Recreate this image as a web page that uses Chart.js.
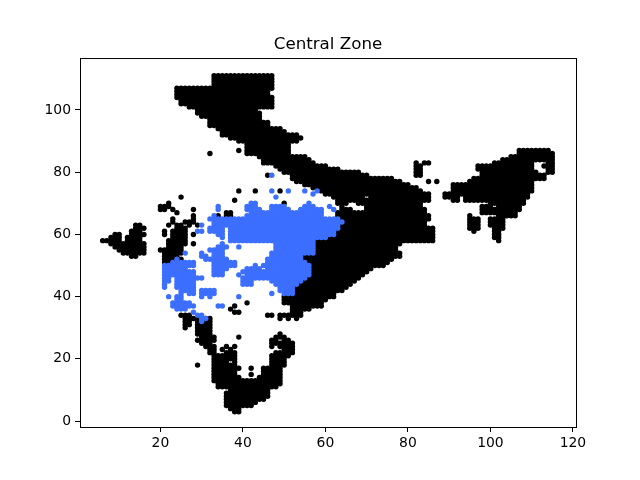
<!DOCTYPE html>
<html>
<head>
<meta charset="utf-8">
<style>
html, body { margin: 0; padding: 0; background: #fff; }
#wrap { width: 640px; height: 480px; }
</style>
<script src="https://cdn.jsdelivr.net/npm/chart.js@4"></script>
</head>
<body>
<div id="wrap"><canvas id="grafico" width="640" height="480"></canvas></div>
<script>
const xTicks = [20, 40, 60, 80, 100, 120]
const yTicks = [0, 20, 40, 60, 80, 100]

// grid cells: [y, x from, x to, x from, x to, ...]
const blackRows = [
    [111, 33,47], [110, 33,47], [109, 33,47], [108, 33,47],
    [107, 24,47], [106, 24,46], [105, 24,46], [104, 24,47], [103, 25,47], [102, 25,47], [101, 27,47],
    [100, 29,43], [99, 29,44], [98, 30,44], [97, 32,44], [96, 32,46], [95, 32,46], [94, 34,49],
    [93, 35,50], [92, 35,53], [91, 37,54], [90, 39,53], [89, 41,51], [88, 41,51],
    [87, 39,39, 41,51, 107,114],
    [86, 32,32, 41,51, 107,115],
    [85, 44,55, 105,115],
    [84, 45,56, 103,115],
    [83, 45,57, 82,82, 84,85, 101,110, 114,115],
    [82, 48,60, 82,83, 97,110, 113,115],
    [81, 49,63, 82,83, 97,110, 114,115],
    [80, 50,68, 82,83, 98,111, 114,115],
    [79, 46,46, 52,70, 82,83, 98,113],
    [78, 52,76, 96,113],
    [77, 53,78, 85,85, 87,87, 95,110],
    [76, 55,80, 91,110],
    [75, 57,82, 91,110],
    [74, 39,39, 43,43, 49,49, 59,83, 91,110],
    [73, 60,85, 89,109],
    [72, 25,25, 62,69, 71,85, 89,92, 94,109],
    [71, 38,38, 63,85, 91,92, 94,108],
    [70, 22,22, 50,50, 63,65, 68,83, 100,108],
    [69, 20,22, 64,64, 70,83, 98,100, 102,107],
    [68, 20,21, 23,23, 28,28, 64,66, 70,84, 98,107],
    [67, 24,24, 36,37, 63,84, 98,106],
    [66, 28,28, 34,34, 36,37, 63,85, 95,95, 102,106],
    [65, 23,23, 28,28, 64,85, 95,97, 100,103],
    [64, 23,23, 26,28, 65,84, 95,97, 100,103],
    [63, 14,15, 22,22, 24,25, 27,27, 29,29, 64,84, 95,97, 100,103],
    [62, 14,16, 24,26, 64,86, 95,97, 101,103],
    [61, 13,15, 21,21, 23,26, 63,86, 96,96, 101,102],
    [60, 9,10, 13,16, 21,21, 23,26, 28,28, 63,86, 101,102],
    [59, 8,10, 12,15, 23,26, 61,86, 101,102],
    [58, 6,10, 12,15, 22,26, 58,86, 102,102],
    [57, 8,16, 22,26, 28,28, 58,78],
    [56, 9,16, 22,25, 58,77],
    [55, 10,16, 20,25, 58,77],
    [54, 11,16, 21,25, 58,78],
    [53, 13,14, 21,24, 55,78],
    [52, 21,23, 25,25, 55,76],
    [51, 21,22, 56,75],
    [50, 57,74], [49, 57,71], [48, 57,70], [47, 57,69], [46, 56,68], [45, 55,67], [44, 54,66],
    [43, 53,65], [42, 53,64], [41, 53,62], [40, 50,62], [39, 50,60],
    [38, 41,41, 50,59],
    [37, 38,38, 52,59],
    [36, 37,37, 52,56],
    [35, 38,39, 52,54],
    [34, 25,27, 46,47, 49,54],
    [33, 26,32, 49,49, 51,51, 53,53],
    [32, 26,27, 29,32],
    [31, 26,27, 29,32],
    [30, 26,26, 29,32],
    [29, 29,32],
    [28, 29,32, 49,49],
    [27, 30,33, 39,39, 48,50],
    [26, 29,33, 47,48, 50,51],
    [25, 30,32, 47,52],
    [24, 31,33, 36,36, 38,38, 47,47, 49,52],
    [23, 32,33, 35,35, 37,37, 50,52],
    [22, 32,33, 36,38, 48,52],
    [21, 33,38, 47,51],
    [20, 33,38, 47,50],
    [19, 33,36, 38,38, 47,50],
    [18, 29,29, 33,38, 47,50],
    [17, 33,39, 42,42, 45,49],
    [16, 33,38, 45,49],
    [15, 33,38, 42,42, 45,49],
    [14, 33,39, 44,49],
    [13, 33,49], [12, 34,49], [11, 34,48], [10, 37,46], [9, 36,46], [8, 36,46],
    [7, 36,45], [6, 36,43], [5, 36,42], [4, 37,39], [3, 38,39]
]

const blueRows = [
    [79, 47,47],
    [74, 47,47, 51,51, 55,55, 58,58],
    [73, 57,57],
    [72, 48,48],
    [70, 42,43, 56,56],
    [69, 34,34, 41,43, 47,50, 55,57, 61,61],
    [68, 34,34, 41,44, 47,51, 54,59, 62,62],
    [67, 42,59],
    [66, 33,33, 41,59],
    [65, 32,63],
    [64, 33,64],
    [63, 30,30, 33,63],
    [62, 32,35, 37,63],
    [61, 29,30, 32,35, 37,62],
    [60, 34,35, 37,62],
    [59, 35,35, 37,60],
    [58, 37,57],
    [57, 35,35, 48,57],
    [56, 34,36, 39,39, 48,57],
    [55, 32,35, 48,57],
    [54, 26,26, 30,30, 33,35, 47,57],
    [53, 30,31, 33,35, 47,54],
    [52, 24,24, 31,36, 46,54],
    [51, 23,28, 33,38, 46,55],
    [50, 21,28, 33,38, 43,43, 45,56],
    [49, 21,26, 33,36, 41,44, 46,56],
    [48, 21,28, 33,35, 40,56],
    [47, 21,28, 33,35, 39,39, 41,56],
    [46, 21,22, 24,30, 40,55],
    [45, 21,22, 24,28, 40,42, 47,54],
    [44, 21,21, 24,28, 40,42, 48,53],
    [43, 21,21, 24,28, 49,52],
    [42, 25,28, 30,33, 49,52],
    [41, 25,25, 27,28, 30,33, 47,47, 50,52],
    [40, 22,22, 24,25, 30,30, 32,32, 39,39],
    [39, 24,25],
    [38, 23,27],
    [37, 23,28, 34,35],
    [36, 24,26],
    [35, 28,28],
    [34, 29,30],
    [33, 30,31],
    [32, 30,30]
]

function expandirLinhas(linhas) {
    let pontos = []
    for (let linha of linhas) {
        for (let i = 1; i < linha.length; i += 2) {
            for (let x = linha[i]; x <= linha[i + 1]; x++) {
                pontos.push({ x: x, y: linha[0] })
            }
        }
    }
    return pontos
}

const chartAreaBorder = {
    id: 'chartAreaBorder',
    afterDraw(chart) {
        const { ctx, chartArea: { left, top, width, height } } = chart
        ctx.save()
        ctx.strokeStyle = '#000'
        ctx.lineWidth = 1
        ctx.strokeRect(left + 0.5, top + 0.5, width, height)
        ctx.restore()
    }
}

const fonte = { family: '"DejaVu Sans"', size: 13.9 }

new Chart(document.getElementById('grafico'), {
    type: 'scatter',
    data: {
        datasets: [{
            data: expandirLinhas(blueRows),
            backgroundColor: '#3c6eff',
            pointRadius: 2.7,
            pointBorderWidth: 0,
        }, {
            data: expandirLinhas(blackRows),
            backgroundColor: '#000',
            pointRadius: 2.7,
            pointBorderWidth: 0,
        }]
    },
    options: {
        responsive: false,
        animation: false,
        layout: { padding: { right: 64 } },
        plugins: {
            legend: { display: false },
            tooltip: { enabled: false },
            title: {
                display: true,
                text: 'Central Zone',
                fullSize: false,
                color: '#000',
                font: { family: '"DejaVu Sans"', size: 16.7, weight: 'normal', lineHeight: 1.2 },
                padding: { top: 35, bottom: 3 }
            }
        },
        scales: {
            x: {
                type: 'linear',
                min: 0.5,
                max: 120.75,
                afterBuildTicks: axis => { axis.ticks = xTicks.map(v => ({ value: v })) },
                afterFit: axis => { axis.height = 53 },
                ticks: { color: '#000', font: fonte, padding: 3, maxRotation: 0, autoSkip: false },
                border: { color: '#000' },
                grid: { drawOnChartArea: false, tickLength: 5, tickColor: '#000' }
            },
            y: {
                type: 'linear',
                min: -1.9,
                max: 116.7,
                afterBuildTicks: axis => { axis.ticks = yTicks.map(v => ({ value: v })) },
                afterFit: axis => { axis.width = 80 },
                ticks: { color: '#000', font: fonte, padding: 4, autoSkip: false },
                border: { color: '#000' },
                grid: { drawOnChartArea: false, tickLength: 5, tickColor: '#000' }
            }
        }
    },
    plugins: [chartAreaBorder]
})
</script>
</body>
</html>
